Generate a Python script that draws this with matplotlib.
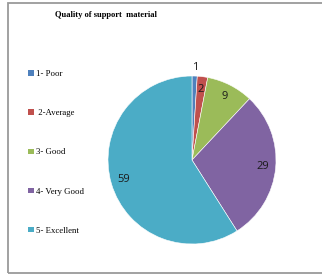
import numpy as np
import matplotlib.pyplot as plt
from matplotlib.patches import Rectangle, Patch

categories = ["1- Poor", " 2-Average", "3- Good", "4- Very Good", "5- Excellent"]
values = [1, 2, 9, 29, 59]
colors = ["#4F81BD", "#C0504D", "#9BBB59", "#8064A2", "#4BACC6"]

W, H = 322, 275
fig = plt.figure(figsize=(W / 100, H / 100), dpi=100)

# grey frame around the chart area
fig.add_artist(Rectangle((8 / W, 2 / H), 330 / W, 270 / H, transform=fig.transFigure,
                         fill=False, edgecolor="#9a9a9a", linewidth=1.3))

cx, cy, r = 192, 160, 84
ax = fig.add_axes([(cx - r) / W, (H - cy - r) / H, 2 * r / W, 2 * r / H])
wedges, _ = ax.pie(values, colors=colors, startangle=90, counterclock=False,
                   wedgeprops=dict(edgecolor="white", linewidth=0.4))
ax.set_xlim(-1, 1)
ax.set_ylim(-1, 1)
ax.set_aspect("equal")
ax.axis("off")

# data labels
for w, v in zip(wedges, values):
    ang = np.deg2rad((w.theta1 + w.theta2) / 2)
    d = 1.1 if v == 1 else 0.85
    ax.text(d * np.cos(ang), d * np.sin(ang), str(v), ha="center", va="center",
            fontsize=8, family="Open Sans", color="#1a1a1a")

fig.text(55 / W, 1 - 15 / H, "Quality of support  material", family="Liberation Serif",
         fontweight="bold", fontsize=6.1, va="center", ha="left")

handles = [Patch(facecolor=c, edgecolor="none") for c in colors]
fig.legend(handles, categories, loc="upper left", bbox_to_anchor=(24 / W, 1 - 66 / H),
           frameon=False, prop={"family": "Liberation Serif", "size": 6.3},
           handlelength=0.65, handleheight=0.65, handletextpad=0.2,
           labelspacing=3.55, borderpad=0)

fig.savefig("out.png", dpi=100)
